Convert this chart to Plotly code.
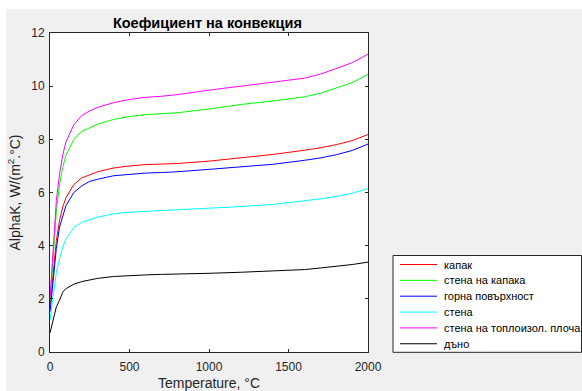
import plotly.graph_objects as go

W, H = 582, 391
L, R, T, B = 50, 214, 33, 39

temps = [0, 20, 40, 60, 80, 100, 150, 200, 250, 300, 400, 500, 600, 700, 800,
         1000, 1200, 1400, 1600, 1700, 1800, 1900, 2000]

kapak = [1.7, 3.0, 4.2, 4.95, 5.45, 5.8, 6.3, 6.55, 6.68, 6.78, 6.92, 7.0, 7.05, 7.06, 7.09,
         7.18, 7.31, 7.43, 7.59, 7.68, 7.8, 7.95, 8.18]
stena_kapaka = [1.9, 3.7, 5.3, 6.3, 6.95, 7.4, 8.0, 8.3, 8.45, 8.57, 8.75, 8.86, 8.93, 8.96, 9.0,
                9.14, 9.31, 9.44, 9.6, 9.73, 9.92, 10.13, 10.45]
gorna = [1.5, 2.8, 3.9, 4.7, 5.15, 5.5, 6.0, 6.25, 6.42, 6.5, 6.63, 6.69, 6.73, 6.75, 6.78,
         6.87, 6.97, 7.06, 7.21, 7.3, 7.42, 7.58, 7.82]
stena = [1.2, 2.2, 3.0, 3.5, 3.95, 4.25, 4.68, 4.88, 4.99, 5.07, 5.2, 5.26, 5.29, 5.32, 5.34,
         5.4, 5.47, 5.55, 5.68, 5.76, 5.85, 5.97, 6.15]
stena_plocha = [2.0, 4.0, 5.7, 6.7, 7.4, 7.9, 8.55, 8.9, 9.07, 9.2, 9.38, 9.5, 9.58, 9.62, 9.68,
                9.85, 10.0, 10.13, 10.3, 10.45, 10.66, 10.88, 11.2]
dano = [0.72, 1.25, 1.7, 1.95, 2.25, 2.38, 2.55, 2.65, 2.72, 2.77, 2.84, 2.88, 2.9, 2.92, 2.93,
        2.96, 3.0, 3.05, 3.1, 3.16, 3.22, 3.29, 3.38]

names = ["капак", "стена на капака", "горна повърхност", "стена",
         "стена на топлоизол. плоча", "дъно"]
series = [kapak, stena_kapaka, gorna, stena, stena_plocha, dano]
colors = ["#ff0000", "#00ff00", "#0000ff", "#00ffff", "#ff00ff", "#000000"]

xticks = [0, 500, 1000, 1500, 2000]
yticks = [0, 2, 4, 6, 8, 10, 12]

fig = go.Figure()
for name, ys, c in zip(names, series, colors):
    fig.add_trace(go.Scatter(x=temps, y=ys, mode="lines", name=name,
                             line=dict(color=c, width=1), showlegend=False))

pw, ph = W - L - R, H - T - B
def px(x):
    return (x - L) / pw
def py(y):
    return (H - B - y) / ph

axcol = "#262626"

shapes = [
    dict(type="rect", xref="paper", yref="paper", x0=px(0), x1=px(W), y0=py(0), y1=py(9),
         fillcolor="white", line=dict(width=0), layer="above"),
    dict(type="rect", xref="paper", yref="paper", x0=px(0), x1=px(6), y0=py(0), y1=py(H),
         fillcolor="white", line=dict(width=0), layer="above"),
    # legend box
    dict(type="rect", xref="paper", yref="paper", x0=px(393), x1=px(581.5),
         y0=py(352.3), y1=py(255.5), fillcolor="white",
         line=dict(color=axcol, width=1), layer="above"),
]
annotations = []
row0, dy = 264.5, 15.85
for i, (name, c) in enumerate(zip(names, colors)):
    yy = row0 + i * dy
    shapes.append(dict(type="line", xref="paper", yref="paper", x0=px(400), x1=px(437),
                       y0=py(yy), y1=py(yy), line=dict(color=c, width=1), layer="above"))
    annotations.append(dict(text=name, xref="paper", yref="paper", x=px(442), y=py(yy),
                            xanchor="left", yanchor="middle", showarrow=False,
                            font=dict(size=11, color="#000000")))

fig.update_layout(
    width=W, height=H,
    margin=dict(l=L, r=R, t=T, b=B, pad=0, autoexpand=False),
    paper_bgcolor="#f0f0f0", plot_bgcolor="white",
    font=dict(family="Liberation Sans, Arial, sans-serif", size=11, color=axcol),
    title=dict(text="<b>Коефициент на конвекция</b>", xref="paper", x=0.495,
               xanchor="center", y=1 - 22.5 / H, yanchor="middle",
               font=dict(size=14.5, color="#000000")),
    showlegend=False,
    shapes=shapes,
    annotations=annotations,
)
fig.update_xaxes(range=[0, 2000], tickvals=xticks, ticks="inside", ticklen=3,
                 tickcolor=axcol, showline=True, linecolor=axcol, linewidth=1,
                 mirror="ticks", showgrid=False, zeroline=False,
                 title=dict(text="Temperature, °C", font=dict(size=14), standoff=8),
                 tickfont=dict(size=12), ticklabelstandoff=4)
fig.update_yaxes(range=[0, 12], tickvals=yticks, ticks="inside", ticklen=3,
                 tickcolor=axcol, showline=True, linecolor=axcol, linewidth=1,
                 mirror="ticks", showgrid=False, zeroline=False,
                 title=dict(text="AlphaK, W/(m<sup>2</sup>.°C)", font=dict(size=14), standoff=7),
                 tickfont=dict(size=12), ticklabelstandoff=2)

fig.write_html("out.html")
